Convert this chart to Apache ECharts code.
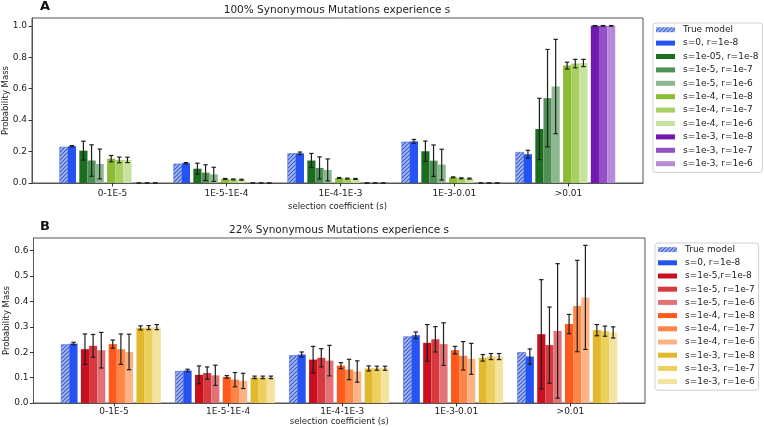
<!DOCTYPE html>
<html>
<head>
<meta charset="utf-8">
<script src="https://cdn.jsdelivr.net/npm/echarts@6/dist/echarts.min.js"></script>
<style>html,body{margin:0;padding:0;background:#fff}#c{width:764px;height:427px}</style>
</head>
<body>
<div id="c"></div>
<script>
// ---------- data ----------
const categories = ['0-1E-5', '1E-5-1E-4', '1E-4-1E-3', '1E-3-0.01', '>0.01'];
const yTicksA = [0, 0.2, 0.4, 0.6, 0.8, 1.0];
const yTicksB = [0, 0.1, 0.2, 0.3, 0.4, 0.5, 0.6];

const namesA = ['True model', 's=0, r=1e-8', 's=1e-05, r=1e-8', 's=1e-5, r=1e-7', 's=1e-5, r=1e-6',
  's=1e-4, r=1e-8', 's=1e-4, r=1e-7', 's=1e-4, r=1e-6', 's=1e-3, r=1e-8', 's=1e-3, r=1e-7', 's=1e-3, r=1e-6'];
const namesB = ['True model', 's=0, r=1e-8', 's=1e-5,r=1e-8', 's=1e-5, r=1e-7', 's=1e-5, r=1e-6',
  's=1e-4, r=1e-8', 's=1e-4, r=1e-7', 's=1e-4, r=1e-6', 's=1e-3, r=1e-8', 's=1e-3, r=1e-7', 's=1e-3, r=1e-6'];

// Panel A: one row per series, one column per category
const valuesA = [
  [0.228, 0.121, 0.187, 0.261, 0.195],
  [0.234, 0.126, 0.189, 0.265, 0.183],
  [0.206, 0.091, 0.143, 0.202, 0.344],
  [0.143, 0.066, 0.096, 0.142, 0.540],
  [0.121, 0.055, 0.083, 0.117, 0.614],
  [0.155, 0.026, 0.032, 0.036, 0.747],
  [0.147, 0.023, 0.028, 0.030, 0.760],
  [0.147, 0.021, 0.026, 0.028, 0.764],
  [0, 0, 0, 0, 1.0],
  [0, 0, 0, 0, 1.0],
  [0, 0, 0, 0, 1.0]
];
const errorsA = [
  null,
  [0.004, 0.004, 0.008, 0.012, 0.025],
  [0.060, 0.035, 0.045, 0.065, 0.195],
  [0.100, 0.050, 0.070, 0.100, 0.310],
  [0.095, 0.045, 0.070, 0.098, 0.300],
  [0.020, 0.003, 0.003, 0.003, 0.022],
  [0.018, 0.003, 0.003, 0.003, 0.027],
  [0.017, 0.003, 0.003, 0.003, 0.023],
  [0, 0, 0, 0, 0.002],
  [0, 0, 0, 0, 0.002],
  [0, 0, 0, 0, 0.002]
];

// Panel B
const valuesB = [
  [0.230, 0.125, 0.187, 0.261, 0.199],
  [0.234, 0.128, 0.191, 0.267, 0.183],
  [0.212, 0.111, 0.171, 0.237, 0.271],
  [0.225, 0.118, 0.178, 0.251, 0.228],
  [0.208, 0.109, 0.167, 0.232, 0.284],
  [0.232, 0.103, 0.147, 0.208, 0.311],
  [0.212, 0.092, 0.132, 0.186, 0.382],
  [0.201, 0.087, 0.124, 0.174, 0.416],
  [0.296, 0.101, 0.136, 0.178, 0.287],
  [0.297, 0.101, 0.137, 0.183, 0.283],
  [0.299, 0.101, 0.137, 0.183, 0.278]
];
const errorsB = [
  null,
  [0.005, 0.005, 0.010, 0.013, 0.030],
  [0.060, 0.035, 0.052, 0.072, 0.215],
  [0.045, 0.024, 0.036, 0.050, 0.150],
  [0.070, 0.040, 0.060, 0.084, 0.265],
  [0.016, 0.005, 0.012, 0.015, 0.038],
  [0.060, 0.028, 0.040, 0.056, 0.180],
  [0.070, 0.030, 0.042, 0.061, 0.205],
  [0.008, 0.005, 0.010, 0.013, 0.022],
  [0.008, 0.005, 0.008, 0.012, 0.020],
  [0.010, 0.005, 0.008, 0.012, 0.022]
];

// ---------- styles / layout ----------
const colorsA = ['#a9bcf0', '#2553f2', '#1b6e20', '#4f9054', '#8cb78f', '#8cbb35', '#a9cf62', '#c8e2a0',
  '#7018b0', '#9450c6', '#b68ad8'];
const colorsB = ['#a9bcf0', '#2553f2', '#c8101e', '#d8393f', '#e37277', '#ff5a1c', '#ff8646', '#ffb284',
  '#e2b82e', '#edcf5e', '#f3e39f'];
const FONT = 'DejaVu Sans';
const subGroups = [2, 3, 3, 3];
const STEP = 0.0715, SUBGAP = 0.029, START = -0.427, BAR_W = 0.0712;
const offsets = [];
(function () {
  let k = 0;
  subGroups.forEach((n, g) => {
    for (let j = 0; j < n; j++) { offsets.push(START + k * STEP + g * SUBGAP); k++; }
  });
})();

// hatch texture for "True model"
function makeHatch() {
  const s = 4;
  const cv = document.createElement('canvas');
  cv.width = s; cv.height = s;
  const g = cv.getContext('2d');
  g.fillStyle = '#a9bcf0'; g.fillRect(0, 0, s, s);
  g.strokeStyle = '#3557d0'; g.lineWidth = 1.1;
  g.beginPath();
  g.moveTo(-1, s + 1); g.lineTo(s + 1, -1);
  g.moveTo(-1, 1); g.lineTo(1, -1);
  g.moveTo(s - 1, s + 1); g.lineTo(s + 1, s - 1);
  g.stroke();
  return { image: cv, repeat: 'repeat' };
}
const hatchFill = makeHatch();

function buildPanel(idx, names, values, errors, colors, suffix) {
  const series = [];
  const errData = [];
  names.forEach((nm, k) => {
    const isHatch = k === 0;
    const fill = isHatch ? hatchFill : colors[k];
    series.push({
      type: 'custom', name: nm + suffix, xAxisIndex: idx, yAxisIndex: idx, clip: true,
      itemStyle: { color: fill },
      data: values[k].map((v, i) => [i + offsets[k], v]),
      encode: { x: 0, y: 1 },
      renderItem: function (params, api) {
        const x = api.value(0), y = api.value(1);
        const p0 = api.coord([x - BAR_W / 2, 0]);
        const p1 = api.coord([x + BAR_W / 2, y]);
        const style = { fill: fill };
        if (isHatch) { style.stroke = '#4a6ad8'; style.lineWidth = 0.6; }
        return {
          type: 'rect',
          shape: { x: p0[0], y: p1[1], width: p1[0] - p0[0], height: p0[1] - p1[1] },
          style: style
        };
      }
    });
    if (errors[k]) values[k].forEach((v, i) => errData.push([i + offsets[k], v, errors[k][i]]));
  });
  series.push({
    type: 'custom', name: 'errbars' + idx, xAxisIndex: idx, yAxisIndex: idx, z: 10,
    data: errData, encode: { x: 0, y: 1 },
    renderItem: function (params, api) {
      const x = api.value(0), y = api.value(1), e = api.value(2);
      const t = api.coord([x, y + e]);
      const b = api.coord([x, Math.max(0, y - e)]);
      const st = { stroke: '#1e1e1e', lineWidth: 1.2 };
      return {
        type: 'group', children: [
          { type: 'line', shape: { x1: t[0], y1: t[1], x2: b[0], y2: b[1] }, style: st },
          { type: 'line', shape: { x1: t[0] - 2.2, y1: t[1], x2: t[0] + 2.2, y2: t[1] }, style: st },
          { type: 'line', shape: { x1: b[0] - 2.2, y1: b[1], x2: b[0] + 2.2, y2: b[1] }, style: st }
        ]
      };
    }
  });
  return series;
}

const ZW = '\u200b';
const axisColor = '#555';
function xAx(idx, nameGap, labelMargin) {
  return {
    type: 'value', gridIndex: idx, min: -0.706, max: 4.654,
    name: 'selection coefficient (s)', nameLocation: 'middle', nameGap: nameGap, nameMoveOverlap: false,
    nameTextStyle: { fontFamily: FONT, fontSize: 8.5, color: '#222' },
    axisLine: { show: true, onZero: false, lineStyle: { color: axisColor, width: 1 } },
    axisTick: { show: true, length: 3.5, customValues: [0, 1, 2, 3, 4], lineStyle: { color: '#333' } },
    axisLabel: { customValues: [0, 1, 2, 3, 4], formatter: v => categories[Math.round(v)], margin: labelMargin,
      fontFamily: FONT, fontSize: 9, color: '#222' },
    splitLine: { show: false }
  };
}
function yAx(idx, max, ticks) {
  return {
    type: 'value', gridIndex: idx, min: 0, max: max,
    name: 'Probability Mass', nameLocation: 'middle', nameGap: 22, nameMoveOverlap: false,
    nameTextStyle: { fontFamily: FONT, fontSize: 8.5, color: '#222' },
    axisLine: { show: true, onZero: false, lineStyle: { color: axisColor, width: 1 } },
    axisTick: { show: true, length: 3.5, customValues: ticks, lineStyle: { color: '#333' } },
    axisLabel: { customValues: ticks, formatter: v => v.toFixed(1), margin: 5,
      fontFamily: FONT, fontSize: 9, color: '#222' },
    splitLine: { show: false }
  };
}
function legend(left, top, lh, names, suffix) {
  return {
    left: left, top: top, orient: 'vertical', icon: 'rect', itemWidth: 19, itemHeight: 5, itemGap: 0,
    padding: [0, 4, 2, 3], borderColor: '#d0d0d0', borderWidth: 1, borderRadius: 3, selectedMode: false,
    textStyle: { fontFamily: FONT, fontSize: 9, color: '#222', lineHeight: lh, padding: [0, 0, 0, 3] },
    data: names.map(n => n + suffix)
  };
}

const chart = echarts.init(document.getElementById('c'), null, { renderer: 'canvas' });
chart.setOption({
  animation: false,
  backgroundColor: '#fff',
  title: [
    { text: 'A', left: 40, top: 0, padding: 0, textStyle: { fontFamily: FONT, fontSize: 13, fontWeight: 'bold', color: '#111' } },
    { text: '100% Synonymous Mutations experience s', left: 337, top: 5, padding: 0, textAlign: 'center',
      textStyle: { fontFamily: FONT, fontSize: 10.5, fontWeight: 'normal', color: '#222' } },
    { text: 'B', left: 40, top: 220, padding: 0, textStyle: { fontFamily: FONT, fontSize: 13, fontWeight: 'bold', color: '#111' } },
    { text: '22% Synonymous Mutations experience s', left: 339, top: 225, padding: 0, textAlign: 'center',
      textStyle: { fontFamily: FONT, fontSize: 10.5, fontWeight: 'normal', color: '#222' } }
  ],
  grid: [
    { left: 32, top: 18, width: 611, height: 165, outerBoundsMode: 'none', containLabel: false,
      show: true, borderColor: axisColor, borderWidth: 1, backgroundColor: 'transparent' },
    { left: 33.5, top: 238, width: 611.5, height: 165, outerBoundsMode: 'none', containLabel: false,
      show: true, borderColor: axisColor, borderWidth: 1, backgroundColor: 'transparent' }
  ],
  xAxis: [xAx(0, 19, 6), xAx(1, 14, 4)],
  yAxis: [yAx(0, 1.05, yTicksA), yAx(1, 0.65, yTicksB)],
  legend: [legend(653, 23, 13.4, namesA, ''), legend(655, 243, 13.2, namesB, ZW)],
  series: buildPanel(0, namesA, valuesA, errorsA, colorsA, '').concat(buildPanel(1, namesB, valuesB, errorsB, colorsB, ZW))
});
</script>
</body>
</html>
